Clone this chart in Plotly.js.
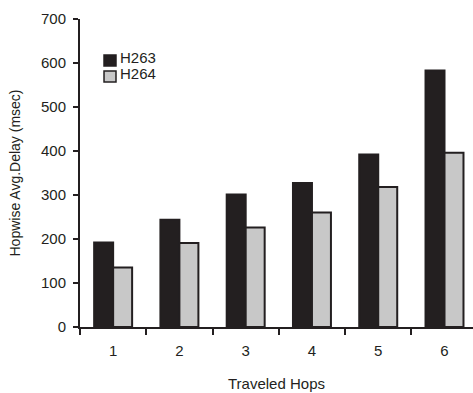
<!DOCTYPE html>
<html>
<head>
<meta charset="utf-8">
<script src="https://cdn.plot.ly/plotly-3.0.1.min.js"></script>
<style>html,body{margin:0;padding:0;overflow:hidden;background:#fff;}</style>
</head>
<body>
<div id="chart" style="width:473px;height:393px;"></div>
<script>
const hops = ["1", "2", "3", "4", "5", "6"];
const h263 = [192, 244, 301, 327, 392, 583];
const h264 = [135, 191, 226, 260, 318, 396];
const seriesNames = ["H263", "H264"];
const seriesColors = ["#231f20", "#c8c8c8"];
const yTicks = [0, 100, 200, 300, 400, 500, 600, 700];

const ink = "#231f20";
const fam = "Liberation Sans, Arial, sans-serif";
const font = {family: fam, size: 15, color: ink};

const traces = [
  {type: "bar", name: seriesNames[0], x: hops, y: h263,
   marker: {color: seriesColors[0], line: {color: ink, width: 2}}},
  {type: "bar", name: seriesNames[1], x: hops, y: h264,
   marker: {color: seriesColors[1], line: {color: ink, width: 2}}}
];

// custom compact legend (square swatches + labels), in paper coordinates
const legX0 = 0.0611, legX1 = 0.0916;
const legRows = [{y0: 0.8474, y1: 0.8831, ty: 0.8766}, {y0: 0.7955, y1: 0.8312, ty: 0.8237}];
const shapes = legRows.map((r, i) => ({
  type: "rect", xref: "paper", yref: "paper",
  x0: legX0, x1: legX1, y0: r.y0, y1: r.y1,
  fillcolor: seriesColors[i], line: {color: ink, width: 1.5}
}));
const annotations = legRows.map((r, i) => ({
  xref: "paper", yref: "paper", x: 0.0967, y: r.ty,
  xanchor: "left", yanchor: "middle", showarrow: false,
  text: seriesNames[i], font: {family: fam, size: 15, color: ink}
}));

const layout = {
  width: 473, height: 393,
  margin: {l: 80, r: 0, t: 19, b: 66},
  paper_bgcolor: "#fff", plot_bgcolor: "#fff",
  font: font,
  barmode: "group",
  bargap: 0.427, bargroupgap: 0,
  showlegend: false,
  shapes: shapes,
  annotations: annotations,
  xaxis: {
    type: "category", range: [-0.5, 5.43],
    showline: true, linecolor: ink, linewidth: 2,
    ticks: "outside", tickson: "boundaries", ticklen: 6, tickwidth: 2, tickcolor: ink,
    showgrid: false, zeroline: false,
    tickfont: font, ticklabelstandoff: 9,
    title: {text: "Traveled Hops", font: font, standoff: 20}
  },
  yaxis: {
    range: [0, 700], tickvals: yTicks,
    showline: true, linecolor: ink, linewidth: 2,
    ticks: "outside", ticklen: 5, tickwidth: 2, tickcolor: ink,
    showgrid: false, zeroline: false,
    tickfont: font, ticklabelstandoff: 4,
    title: {text: "Hopwise Avg.Delay (msec)", font: {family: fam, size: 14, color: ink}, standoff: 17}
  }
};

Plotly.newPlot("chart", traces, layout, {displayModeBar: false, staticPlot: true});
</script>
</body>
</html>
